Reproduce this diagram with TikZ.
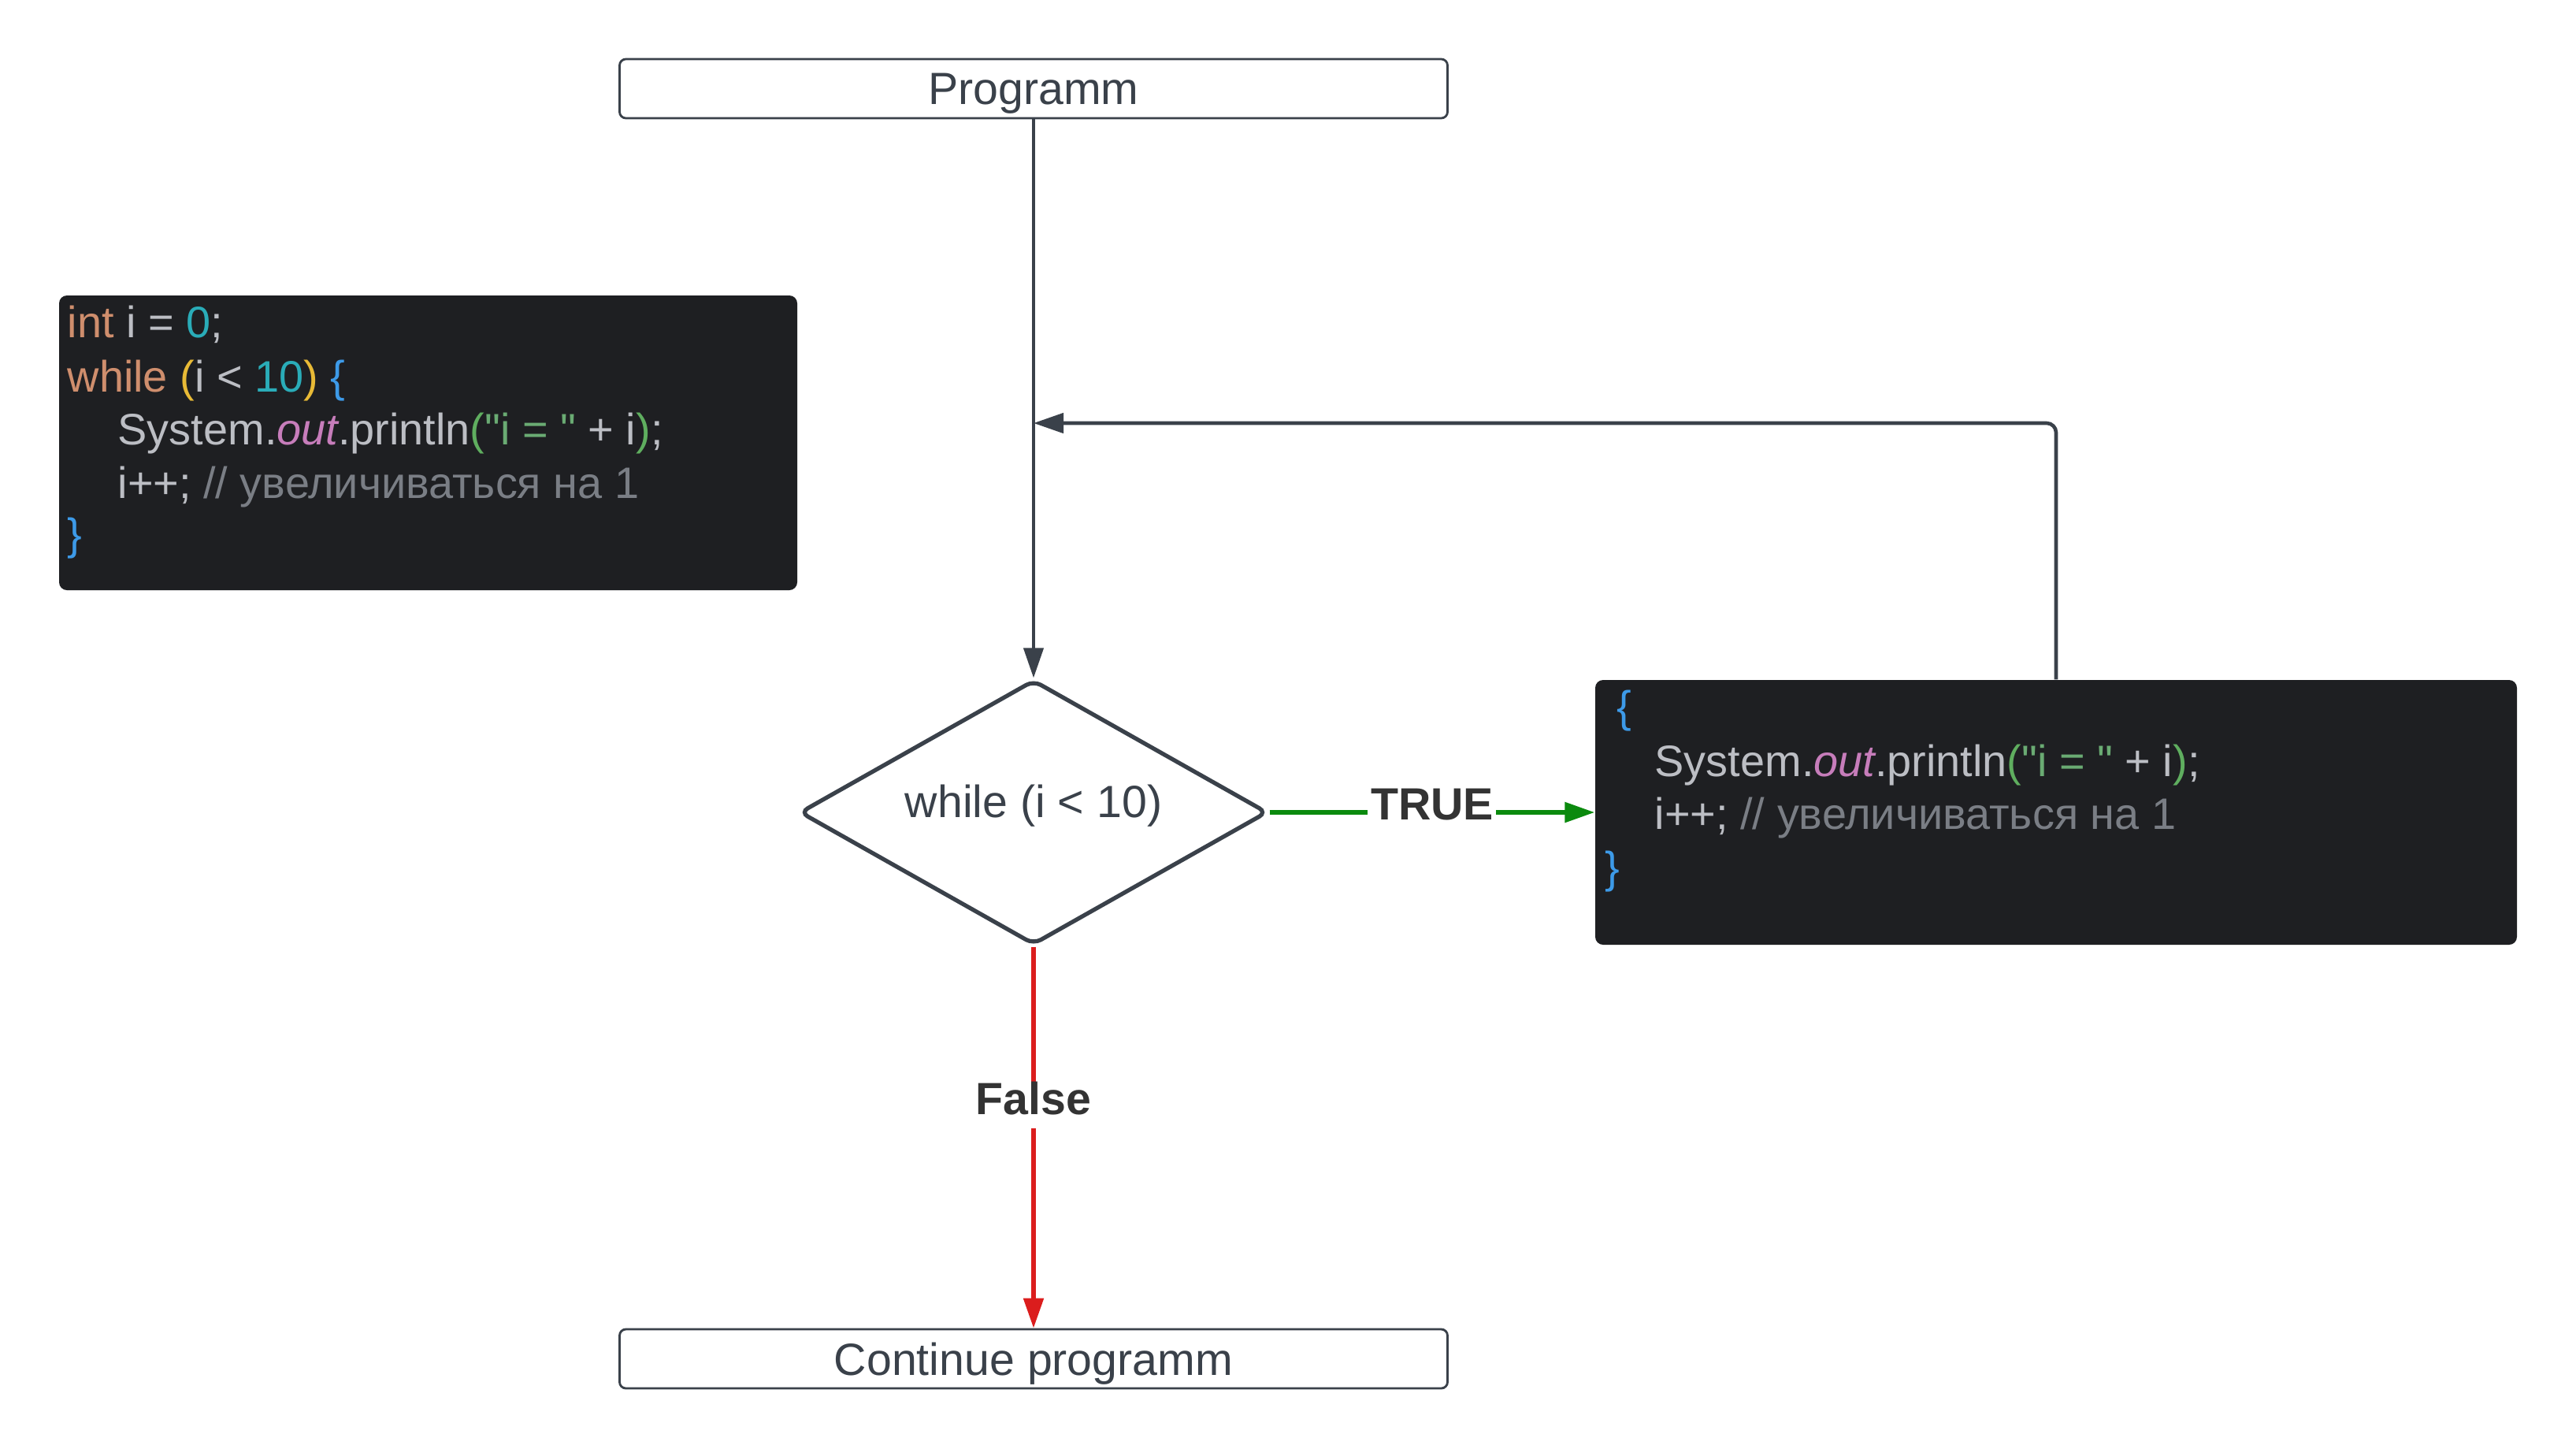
\documentclass[tikz,border=0pt]{standalone}
\usepackage{fontspec}
\setmainfont{Liberation Sans}
\newfontfamily\codefont{Liberation Sans}[Ligatures=TeXOff]
\usetikzlibrary{shapes.geometric,arrows.meta}
\definecolor{linec}{HTML}{3A414A}
\definecolor{labc}{HTML}{333333}
\definecolor{codebg}{HTML}{1E1F22}
\definecolor{ckw}{HTML}{CF8E6D}
\definecolor{cnum}{HTML}{2AACB8}
\definecolor{cstr}{HTML}{6AAB73}
\definecolor{cgrp}{HTML}{5FAE5F}
\definecolor{cfld}{HTML}{C77DBB}
\definecolor{ccom}{HTML}{7A7E85}
\definecolor{ctxt}{HTML}{BCBEC4}
\definecolor{cpar}{HTML}{E8BA36}
\definecolor{cbrc}{HTML}{3D9AE8}
\definecolor{truec}{HTML}{0B8A0E}
\definecolor{falsec}{HTML}{DB1D1D}
\tikzset{
  mainfont/.style={font=\fontsize{16.3}{19.5}\selectfont},
  termbox/.style={draw=linec, line width=0.8pt, rounded corners=0.08cm, fill=white,
    minimum width=10.51cm, minimum height=0.75cm, inner sep=0pt, text=linec,
    mainfont, text depth=0pt},
  decision/.style={diamond, aspect=1.77, draw=linec, line width=1.5pt, rounded corners=3pt, fill=white,
    minimum width=5.94cm, minimum height=3.36cm, inner sep=0pt, text=linec,
    mainfont, text height=0.73em, text depth=0.38em},
  codebox/.style={fill=codebg, rounded corners=0.1cm, inner sep=0pt},
  codeline/.style={anchor=base west, inner sep=0pt, text=ctxt,
    font=\codefont\fontsize{15.9}{19}\selectfont},
  conn/.style={draw=linec, line width=1.2pt, -{Triangle[length=0.38cm,width=0.25cm]}},
  loopconn/.style={draw=linec, line width=1.3pt, rounded corners=0.12cm,
    -{Triangle[length=0.38cm,width=0.25cm]}},
  trueconn/.style={draw=truec, line width=1.6pt, -{Triangle[length=0.38cm,width=0.25cm]}},
  falseconn/.style={draw=falsec, line width=1.5pt, -{Triangle[length=0.38cm,width=0.25cm]}},
  edgelabel/.style={fill=white, text=labc, inner xsep=1pt, inner ysep=3pt,
    font=\fontsize{16.3}{19.5}\selectfont\bfseries, text height=0.72em, text depth=0.2em}
}
\begin{document}
\begin{tikzpicture}
\useasboundingbox (0,0) rectangle (32.7,-18.38);

% terminal boxes
\node[termbox] (prog) at (13.12,-1.125) {Programm};
\node[termbox] (cont) at (13.12,-17.245) {Continue programm};

% decision
\node[decision] (cond) at (13.12,-10.31) {while (i < 10)};

% left code block
\node[codebox, minimum width=9.37cm, minimum height=3.74cm] (code) at (5.435,-5.62) {};
\node[codeline] (c1) at (0.85,-4.28) {\textcolor{ckw}{int} i = \textcolor{cnum}{0};};
\node[codeline] (c2) at (0.85,-4.97) {\textcolor{ckw}{while} \textcolor{cpar}{(}i < \textcolor{cnum}{10}\textcolor{cpar}{)} \textcolor{cbrc}{\{}};
\node[codeline] (c3) at (1.49,-5.64) {System.\textcolor{cfld}{\itshape out}.println\textcolor{cgrp}{(}\textcolor{cstr}{"i = "} + i\textcolor{cgrp}{)};};
\node[codeline] (c4) at (1.49,-6.32) {i++; \textcolor{ccom}{// увеличиваться на 1}};
\node[codeline] (c5) at (0.85,-6.97) {\textcolor{cbrc}{\}}};

% right code block (loop body)
\node[codebox, minimum width=11.70cm, minimum height=3.36cm] (body) at (26.10,-10.31) {};
\node[codeline] (b1) at (20.52,-9.16) {\textcolor{cbrc}{\{}};
\node[codeline] (b2) at (21.00,-9.85) {System.\textcolor{cfld}{\itshape out}.println\textcolor{cgrp}{(}\textcolor{cstr}{"i = "} + i\textcolor{cgrp}{)};};
\node[codeline] (b3) at (21.00,-10.52) {i++; \textcolor{ccom}{// увеличиваться на 1}};
\node[codeline] (b4) at (20.37,-11.20) {\textcolor{cbrc}{\}}};

% connectors
\coordinate (loopend) at (13.12,-5.37);
\draw[conn] (prog.south) -- (cond.north);
\draw[loopconn] (body.north) |- (loopend);
\draw[trueconn] (cond.east) -- node[edgelabel] (tlab) {TRUE} (body.west);
\draw[falseconn] (cond.south) -- node[edgelabel, pos=0.421] (flab) {False} (cont.north);
\end{tikzpicture}
\end{document}
